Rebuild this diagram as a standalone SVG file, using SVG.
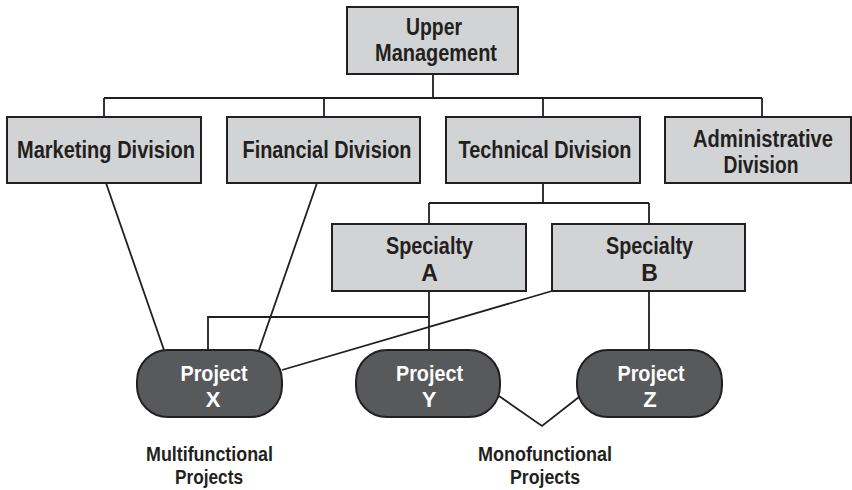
<svg xmlns="http://www.w3.org/2000/svg" width="852" height="490" viewBox="0 0 852 490">
<style>
.box{fill:#d1d3d4;stroke:#231f20;stroke-width:2}
.proj{fill:#58595b;stroke:#231f20;stroke-width:2}
.t{font-family:"Liberation Sans",Arial,sans-serif;font-weight:bold;font-size:23px;fill:#231f20;text-anchor:middle}
.lb{font-family:"Liberation Sans",Arial,sans-serif;font-weight:bold;font-size:20px;fill:#231f20;text-anchor:middle}
.pt{font-family:"Liberation Sans",Arial,sans-serif;font-weight:bold;font-size:22px;fill:#ffffff;text-anchor:middle}
.c{fill:none;stroke:#231f20;stroke-width:1.8}
</style>
<rect width="852" height="490" fill="#ffffff"/>
<g id="connectors">
<path class="c" d="M433 74V98M104 98H762M104 98V117M324 98V117M543 98V117M762 98V117"/>
<path class="c" d="M106 183L164 350M317 183L259 350"/>
<path class="c" d="M543 183V203M429 203H649M429 203V224M649 203V224"/>
<path class="c" d="M429 291V350M429 317H208V350M552 291L282 370M649 291V350"/>
<path class="c" d="M499 396L542 426L579 397"/>
</g>
<g id="upper-management">
<rect class="box" x="347" y="7" width="171" height="67"/>
<text class="t" x="434" y="35" textLength="56" lengthAdjust="spacingAndGlyphs">Upper</text>
<text class="t" x="436" y="61" textLength="122" lengthAdjust="spacingAndGlyphs">Management</text>
</g>
<g id="marketing-division">
<rect class="box" x="7" y="117" width="194" height="66"/>
<text class="t" x="106" y="158" font-size="24" textLength="178" lengthAdjust="spacingAndGlyphs">Marketing Division</text>
</g>
<g id="financial-division">
<rect class="box" x="227" y="117" width="193" height="66"/>
<text class="t" x="327" y="158" font-size="24" textLength="169" lengthAdjust="spacingAndGlyphs">Financial Division</text>
</g>
<g id="technical-division">
<rect class="box" x="446" y="117" width="194" height="66"/>
<text class="t" x="545" y="158" font-size="24" textLength="173" lengthAdjust="spacingAndGlyphs">Technical Division</text>
</g>
<g id="administrative-division">
<rect class="box" x="665" y="117" width="186" height="66"/>
<text class="t" x="763" y="147" textLength="140" lengthAdjust="spacingAndGlyphs">Administrative</text>
<text class="t" x="761" y="173" textLength="75" lengthAdjust="spacingAndGlyphs">Division</text>
</g>
<g id="specialty-a">
<rect class="box" x="332" y="224" width="194" height="67"/>
<text class="t" x="429.5" y="254" textLength="87" lengthAdjust="spacingAndGlyphs">Specialty</text>
<text class="t" x="429.5" y="281">A</text>
</g>
<g id="specialty-b">
<rect class="box" x="552" y="224" width="193" height="67"/>
<text class="t" x="649.5" y="254" textLength="87" lengthAdjust="spacingAndGlyphs">Specialty</text>
<text class="t" x="649.5" y="281">B</text>
</g>
<g id="project-x">
<rect class="proj" x="137" y="350" width="145" height="67" rx="31" ry="31"/>
<text class="pt" x="214" y="381" textLength="67" lengthAdjust="spacingAndGlyphs">Project</text>
<text class="pt" x="213" y="407">X</text>
</g>
<g id="project-y">
<rect class="proj" x="356" y="350" width="144" height="67" rx="31" ry="31"/>
<text class="pt" x="429.5" y="381" textLength="67" lengthAdjust="spacingAndGlyphs">Project</text>
<text class="pt" x="429" y="407">Y</text>
</g>
<g id="project-z">
<rect class="proj" x="577" y="350" width="145" height="67" rx="31" ry="31"/>
<text class="pt" x="651" y="381" textLength="67" lengthAdjust="spacingAndGlyphs">Project</text>
<text class="pt" x="650" y="407">Z</text>
</g>
<g id="multifunctional-label">
<text class="lb" x="209.5" y="461" textLength="127" lengthAdjust="spacingAndGlyphs">Multifunctional</text>
<text class="lb" x="209" y="484" textLength="68" lengthAdjust="spacingAndGlyphs">Projects</text>
</g>
<g id="monofunctional-label">
<text class="lb" x="545" y="461" textLength="134" lengthAdjust="spacingAndGlyphs">Monofunctional</text>
<text class="lb" x="545" y="484" textLength="70" lengthAdjust="spacingAndGlyphs">Projects</text>
</g>
</svg>
